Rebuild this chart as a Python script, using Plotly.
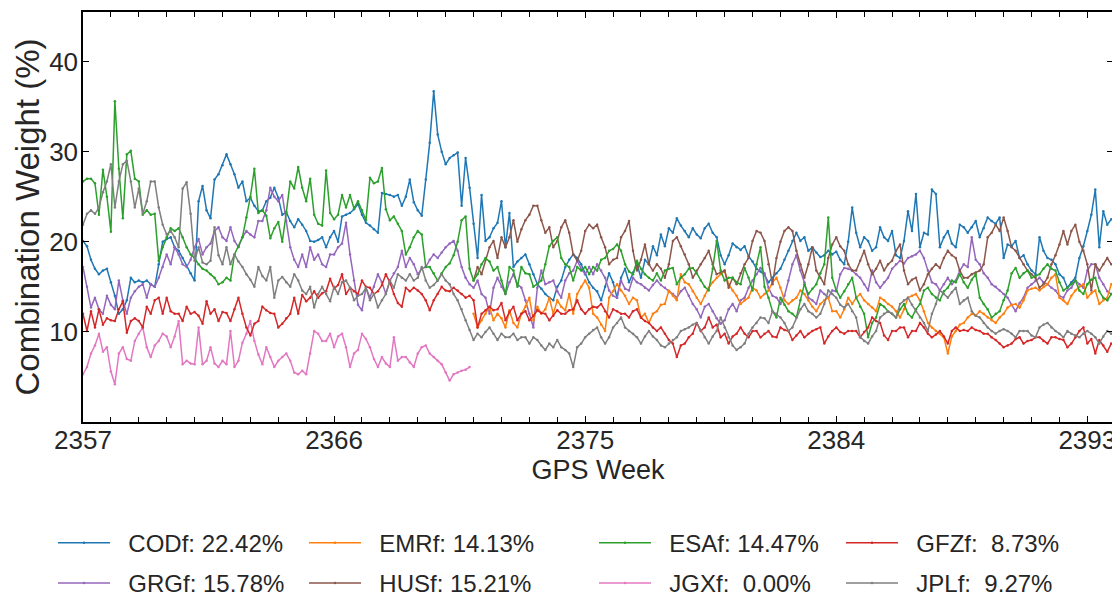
import plotly.graph_objects as go

# ---------------- data (daily values) ----------------
first_week = 2357          # week of first daily sample
late_start_week = 2371     # EMRf / HUSf start at this GPS week

cod = [20.1, 19.5, 18, 17, 16.4, 16.8, 17, 15.5, 14, 12,
       12.5, 13.5, 16, 15.5, 15.7, 15.5, 15.7, 15.3, 15, 17.5,
       20, 20.3, 20.5, 19.4, 19, 18.2, 17.3, 16.5, 15.7, 24.5,
       26.2, 23.5, 22.6, 26.9, 27.5, 28.5, 29.7, 28.6, 27.5, 26,
       26.7, 24.5, 24.9, 24, 23.4, 23.5, 24.5, 24.9, 26, 24.9,
       23, 23.3, 22.3, 21.6, 22.5, 21.9, 21.2, 20.1, 20, 20.2,
       20.5, 19.4, 20.5, 21.2, 20, 22.8, 23, 23.2, 23.6, 24.2,
       23, 22.1, 21.8, 21.4, 21, 25.4, 25.3, 25.2, 25, 25.2,
       24, 25, 26.9, 24.4, 23.5, 22.9, 26.9, 31, 36.7, 31.9,
       30, 28.6, 29.3, 29.6, 29.9, 24, 29.3, 26, 22, 18.2,
       25.2, 20.1, 20.5, 21.5, 22.1, 24.5, 19.4, 23.2, 17.2, 17.8,
       18.2, 18.6, 17.5, 16.4, 15.3, 14.8, 14.2, 13.8, 13.5, 15,
       15.7, 17.2, 18, 18.6, 18.2, 17.5, 16.4, 15.5, 14.9, 14.5,
       13.5, 15, 16.5, 15.5, 13.8, 16, 17, 15.5, 16.6, 17.5,
       16, 18, 17.5, 19.5, 18.5, 20.8, 19.5, 21.5, 21, 22.6,
       21.8, 21.2, 20.5, 21.5, 20.8, 20.4, 21.5, 22, 21, 20.5,
       18.5, 17.5, 18.5, 19.8, 19.4, 19.1, 19.5, 18.4, 17.8, 17,
       16.7, 16.3, 15.5, 16, 16.5, 17, 18, 19, 20.1, 21,
       20.1, 20.5, 19, 19.4, 18.8, 18.3, 18.5, 19, 18.6, 18.9,
       18, 17.5, 20, 23.8, 21, 19.4, 20.5, 20.1, 19, 19.4,
       21.6, 20.5, 20.1, 21.2, 18.5, 18.2, 20.1, 23.4, 21.2, 25.3,
       19.4, 21, 20.8, 25.8, 25.3, 19.4, 20.5, 21.2, 19.8, 19.4,
       21.9, 21.6, 21, 21.6, 22.3, 20.5, 21.5, 22.7, 22.3, 22,
       22.7, 18.2, 19.7, 19.5, 20.1, 18.2, 18.5, 17.5, 16.8, 16.4,
       20.5, 19, 18.2, 18, 17.5, 16.4, 16, 14.9, 15.5, 16,
       18.2, 19.5, 21.2, 23, 25.8, 19.4, 23.4, 21.9, 22.5]

emr = [12, 10.5, 11.3, 12, 12.8, 11.3, 12, 11.5, 10.5, 12.4,
       11, 10.5, 12, 12.8, 13.8, 11.3, 12.8, 12, 12.5, 13.8,
       12, 13.5, 12.8, 12.4, 14.2, 12, 14.2, 15, 15.7, 14.9,
       12, 11.6, 10.8, 10.1, 13.8, 14.5, 15.3, 14.6, 14, 13.1,
       13.8, 13.5, 11.6, 12, 11, 12, 12.3, 13, 13.1, 14.6,
       14, 13.5, 16.4, 15.5, 15.3, 14.5, 13.8, 13.1, 14, 14.9,
       15.5, 16, 16.4, 16.8, 15.3, 14.6, 14, 13.1, 13.5, 13.8,
       14.9, 14.6, 13.8, 14.2, 14.6, 15.5, 16, 14.9, 13.5, 13.1,
       13.5, 13.8, 14.6, 14.2, 13.5, 12.8, 12.3, 13.1, 13.5, 13.8,
       12.3, 12.3, 11.6, 12.5, 13.8, 13.1, 13.8, 14.2, 13.5, 13.1,
       12.7, 12.3, 13.8, 13.5, 13.1, 12.8, 12.3, 11.6, 12.5, 13.8,
       14, 14.2, 13.5, 12.3, 11, 10.5, 10.1, 9.8, 9.4, 7.6,
       9.5, 10.1, 10.8, 11, 11.6, 12, 11.8, 12.3, 12, 11.6,
       11.3, 11, 11.6, 12, 12.7, 13, 13.1, 12.7, 13.5, 14.6,
       14.8, 14.9, 14.6, 15, 15.3, 16, 16.4, 13.8, 13.5, 13.1,
       14, 14.6, 15, 15.3, 13.8, 14.3, 14.6, 13.1, 13.5, 13.8,
       15.3]

esa = [26.7, 27, 27, 26.5, 23, 28, 25, 21.1, 35.6, 28.1,
       22.6, 29.7, 30.1, 27, 26.7, 23, 23.5, 23, 23.1, 17.9,
       19.4, 20.5, 21.5, 21.2, 21.5, 20.5, 19.4, 18.6, 18.2, 17.5,
       17, 16.8, 16.4, 16, 15.3, 15.5, 16, 15.7, 18.6, 19.5,
       20.5, 22.7, 25, 28.1, 23.2, 23.5, 22.9, 20.4, 21.5, 22.2,
       20, 23.2, 26.7, 25.9, 28.3, 26, 24.5, 27, 23, 22,
       21.8, 27.9, 23.2, 22.5, 23, 25.2, 23.8, 25.2, 23.7, 24.5,
       23.5, 22.4, 27.1, 26.5, 26.7, 28.2, 23.6, 22.4, 22.8, 22,
       21.2, 18.6, 19.4, 20.5, 21.2, 20.8, 17.2, 17.2, 16.5, 15.7,
       16.5, 17.2, 17.6, 18.5, 20, 22.4, 22.8, 17, 15.7, 16.4,
       17.5, 18.2, 17.8, 16.8, 17.2, 15.7, 14.2, 17.2, 16.8, 15,
       17.2, 16.5, 16.4, 15, 15.3, 15.7, 17.5, 19.5, 20.1, 20.5,
       18.2, 17.5, 17.2, 15.7, 17.2, 16.8, 17.2, 16.4, 17.2, 16.8,
       18, 18.2, 19, 19.2, 19.7, 19, 17.5, 16.7, 16.4, 17.9,
       17, 16.4, 16, 15.7, 16.5, 15.7, 16.8, 17, 17.1, 15.3,
       16, 16.4, 17, 17.1, 16.5, 15.7, 15, 14.6, 17, 20.1,
       16.8, 15.7, 16, 16, 15.5, 15.3, 17.1, 16, 14.6, 17.5,
       19.4, 15, 13.8, 12.3, 11.6, 13.8, 13, 12.3, 12, 11.6,
       13.5, 15.3, 14.2, 14.8, 15.3, 16.5, 17.5, 22.7, 16, 14.6,
       13.8, 14.5, 15.3, 16, 13.8, 12.8, 12, 9.4, 11, 11.6,
       13.1, 12.8, 12.3, 12, 11.6, 12.5, 13.1, 12, 11.6, 12.5,
       13.1, 14.6, 14.9, 14.2, 13.8, 13.5, 14.5, 14.9, 15.7, 15.5,
       16.4, 15.5, 14.9, 15.8, 16.4, 13.8, 13.1, 12.5, 11.6, 12,
       12.3, 13.5, 14.6, 16.5, 17.1, 16, 16.5, 16.8, 16, 16.2,
       16.4, 17, 17.5, 17, 16.8, 15.5, 14.6, 14.9, 15.3, 15.7,
       14.6, 14.2, 15.3, 15.8, 16, 14.5, 13.8, 13.5, 14.2]

gfz = [12, 10.1, 12.3, 10.5, 12.5, 10.8, 11.5, 11.3, 11.2, 12.5,
       13.4, 9.9, 11.2, 11.5, 11.2, 10.5, 12.8, 12, 13.5, 13.8,
       12, 13.8, 12.3, 12, 12, 11.2, 12.8, 12, 12.2, 11.8,
       10.9, 13.4, 12, 12.5, 11.2, 12.2, 12.1, 11.2, 12.5, 13.8,
       12, 10.5, 9.6, 10.9, 11.2, 12.8, 12.4, 12.1, 12, 10.5,
       10.9, 11.5, 12, 13.8, 12, 14.1, 13.4, 13.8, 14.5, 13.8,
       14.3, 14.5, 15.9, 14.8, 15.2, 16.4, 14.2, 14.9, 14.5, 14.2,
       15.7, 15, 14.9, 14.2, 14.5, 15.2, 16.4, 15.5, 14.2, 13.2,
       12.8, 14.9, 14.5, 14.9, 14.6, 14.2, 13.5, 12.4, 13.5, 14.2,
       15, 14.6, 14.5, 14.9, 14.6, 14.2, 13.8, 14, 13.5, 10.5,
       12, 12.4, 12.8, 12.4, 12.5, 13.2, 11.3, 12.2, 12.8, 11.3,
       12, 12.3, 11.3, 11.8, 12.4, 12.1, 12, 11.3, 11.8, 12.4,
       12, 12, 12.4, 12.5, 13.5, 12.5, 12, 12.5, 12.8, 12.7,
       13.1, 12.3, 11.6, 12.5, 12.3, 12, 12, 11.6, 12.3, 12.5,
       11.6, 11.2, 11, 10.5, 10.1, 10.5, 9.8, 9.1, 8.7, 7.2,
       8.5, 8.7, 9.4, 9.8, 11, 10.1, 10.5, 11.6, 10.5, 10.8,
       9.4, 9.8, 8.7, 9.5, 9.8, 10.5, 9.8, 9.4, 10.1, 10.1,
       9.4, 9.8, 10.1, 9.5, 9.4, 10.5, 10.2, 10.1, 9.1, 9.6,
       10.1, 9.4, 9.8, 10.1, 10.3, 10.5, 8.7, 9.5, 10.1, 10.5,
       10, 9.8, 10.1, 10.1, 10.1, 9.4, 10, 10.5, 11.6, 11.2,
       11, 9.6, 9.1, 10.1, 10.1, 10.5, 10.5, 9.4, 10.1, 10.1,
       11, 10.5, 9.8, 9.4, 9.7, 10.1, 9.5, 8.7, 10.1, 10.5,
       10.1, 10.2, 10.1, 10.5, 10.2, 10.1, 9.8, 9.8, 9.4, 9.1,
       8.7, 8.3, 8.5, 8.7, 9.2, 9.4, 8.7, 9, 9.1, 9.4,
       9.4, 9, 8.7, 9.4, 9.4, 9.2, 9.1, 8.3, 8.7, 9.4,
       10.1, 10.5, 8.7, 9.2, 7.6, 9.1, 8.5, 7.8, 8.7]

grg = [17.2, 15, 12.7, 13.8, 12.5, 12, 14, 13, 12.5, 15.7,
       13.5, 12, 13.8, 14.5, 15, 15.3, 13.8, 15.3, 15, 16,
       17.2, 18.6, 17.5, 19.4, 18.6, 17.5, 17.2, 18, 19.4, 20.3,
       18.6, 19.4, 19.8, 21.2, 21.6, 20.5, 20.1, 21.6, 20.1, 19.4,
       20.5, 21.2, 20.8, 20.5, 22.3, 22.3, 23.5, 26, 25, 24.5,
       25.2, 22.3, 19.4, 18, 17.2, 18.6, 17.2, 19.4, 18, 18.6,
       17.5, 17.2, 18.6, 18.6, 19.4, 19.8, 22.1, 18.6, 15.7, 13,
       12.4, 14.9, 13.8, 15, 16.4, 15.5, 14.2, 15.7, 16.5, 17.2,
       19, 17.2, 18.2, 17.5, 16.4, 17, 17.2, 18, 18.6, 18.2,
       18.8, 19.4, 19.8, 20.1, 19, 17.2, 16, 15.3, 14.9, 15.7,
       14.2, 13.8, 12, 14.9, 16, 15, 14.2, 15.5, 16.4, 15.3,
       14.9, 13.5, 12, 10.5, 14.9, 16.8, 15.3, 15.5, 15.7, 14.5,
       13.8, 15.7, 16.5, 16.8, 17.9, 17, 16.4, 17.2, 16.4, 17.5,
       16.8, 16, 14.6, 14, 13.8, 15.7, 14.8, 14.6, 16, 15.5,
       15.3, 14.9, 14.6, 15.2, 15.7, 15.2, 14.9, 14.5, 14.2, 13.8,
       14.5, 14.9, 14, 13.1, 12.5, 11.6, 12.8, 13.1, 12.3, 11.5,
       10.9, 11.3, 12.5, 13.1, 12.3, 13.5, 13.8, 14.9, 15.7, 16.4,
       17.1, 16.5, 14.9, 14, 13.8, 13.1, 14, 15.7, 17.5, 18.5,
       16.8, 15.5, 13.8, 13.5, 13.1, 14.6, 14.2, 13.8, 14.6, 14.5,
       16.4, 17.1, 17, 16.8, 16.4, 16, 15.3, 14.6, 16.8, 15.5,
       14.9, 15.5, 16, 17, 17.5, 17.9, 17.6, 18.2, 18.4, 18.6,
       19, 18.2, 16.8, 15.5, 15.3, 14.6, 15.3, 16, 15.3, 15.7,
       16.8, 17.5, 17.2, 20.5, 18, 17.5, 16.5, 16, 15.3, 15,
       14.6, 14.2, 13.8, 13, 12.3, 13.2, 13.8, 14.9, 15.3, 15.7,
       16, 15.5, 15.3, 14.9, 14.6, 14, 13.8, 14.6, 14.9, 15.7,
       15.3, 14.9, 16.8, 17.5, 17.5, 16, 15.3, 14.5, 14.2]

hus = [15.7, 17.2, 16.4, 18, 19.4, 20.1, 18.2, 20.5, 19.4, 20.5,
       22.4, 20, 21.4, 22.4, 23, 24, 24, 22.4, 21, 21.6,
       19.4, 20.1, 21.6, 22.4, 21, 18.6, 17.9, 19, 21.2, 21.9,
       21.5, 21.9, 20.5, 19.4, 17.5, 18, 18.2, 20.5, 21.2, 22.3,
       19, 16.8, 18, 19.7, 17.5, 16.8, 17.5, 17, 16, 17.5,
       20.1, 20.5, 19.5, 18.6, 17.5, 16, 16.8, 17.5, 18.2, 19,
       17.5, 16.4, 16.6, 16.8, 14.9, 16, 15.3, 16.5, 17.5, 18.2,
       20.1, 21.2, 21, 20.1, 17.5, 15.3, 18.2, 20, 21.2, 21.6,
       21.2, 19, 17.5, 16, 17.5, 19.4, 16.8, 16, 15.3, 18.2,
       19.7, 20.5, 19.5, 19, 17.5, 16.8, 16.8, 17.9, 19, 17.5,
       16.4, 17, 17.9, 16.8, 17.5, 17.9, 19, 19.7, 16.8, 15.3,
       15.8, 16, 14.6, 15.3, 16.4, 17, 17.5, 17.1, 18.2, 19,
       18.5, 18.2, 16.8, 16, 16, 16.4, 16.6, 16.8, 17.5, 20.5,
       21, 21.9, 21.2, 22.7, 21.2, 19.4, 19, 18.2, 17.5, 16.8,
       16.4, 16, 14.9, 15.3, 16, 17.5, 18.5, 19.7, 21.2, 19.7,
       21.2, 21.9, 20, 19, 17.5, 14.6, 17.5, 16.8, 17.5, 18.2,
       17.5]

jgx = [5.3, 6.1, 7.6, 8.5, 9.8, 7.8, 8.3, 5.6, 4.2, 7.6,
       8.3, 7, 6.8, 9, 9.8, 10.5, 8.3, 7.2, 8.5, 9,
       9.8, 9.5, 8.3, 9.5, 11.2, 6.4, 6.8, 6.5, 6.4, 10.5,
       6.4, 6.8, 8.3, 6.5, 6.1, 6.8, 6.4, 10.1, 6.1, 6.8,
       8.8, 9.8, 11.2, 9, 7.5, 6.4, 8.3, 7.2, 6.1, 6.8,
       7.2, 7.6, 6.8, 5.5, 5.3, 5.7, 5.3, 7.6, 10.1, 9.8,
       9, 9, 9.8, 8.3, 9.5, 9.8, 8.3, 6.1, 7.6, 8,
       9.8, 9.2, 8.3, 7, 6.1, 7.2, 6.5, 6.1, 9.4, 6.8,
       7.2, 7.2, 6.6, 6.1, 7.6, 8.3, 8.5, 7.6, 7.2, 6.8,
       6.4, 5.5, 4.6, 5.3, 5.5, 5.7, 5.8, 6.1]

jpl = [21.9, 23.1, 23.5, 23.1, 23.8, 25.5, 26.7, 28.6, 23.8, 26.7,
       28.6, 29, 26.7, 23.8, 25.9, 23.1, 24.5, 26.7, 26.7, 23.8,
       21.9, 20.8, 21.2, 20.5, 19.4, 25.9, 26.6, 23.1, 17.9, 19.4,
       17.7, 17.5, 17.9, 21.6, 18.5, 17.5, 19.4, 17.5, 18.6, 17.8,
       17.2, 16.4, 15.8, 15, 17.2, 16.2, 15.7, 17.2, 13.8, 15.7,
       16.1, 15.5, 15, 16.4, 15.7, 14.6, 14.2, 15, 12.7, 14.2,
       15, 14.2, 13.4, 15, 14.2, 15.5, 15.7, 14.9, 13.5, 14,
       14.2, 14.9, 13.5, 14.2, 12.7, 13.5, 14.2, 15.7, 14.9, 16.4,
       16, 15.7, 16.4, 15.7, 16, 17.2, 15.7, 14.9, 15.2, 15.7,
       16.4, 15.7, 15.3, 14.2, 13.5, 12.5, 11.3, 10.2, 9.1, 9.8,
       9.4, 10, 10.5, 9.8, 9.1, 9.8, 9.4, 9.4, 9.8, 9.1,
       9.4, 9.4, 8.7, 9.4, 9.1, 8.5, 8, 8.7, 8.3, 9.1,
       8.3, 8, 7.6, 6.1, 8.3, 8.7, 9.4, 9.8, 10.2, 10.5,
       9.4, 8.7, 9.4, 10.5, 11, 11.6, 10.5, 10.1, 9.8, 9.4,
       8.7, 9.5, 10.1, 9.5, 9.1, 8.5, 8.3, 8.7, 9.1, 9.4,
       10.1, 10.3, 10.5, 10.8, 11, 10.2, 9.4, 8.7, 9.5, 10.1,
       11.6, 10.5, 9.4, 8.5, 8, 8.3, 8.7, 9.8, 10.5, 11,
       11.6, 11.5, 11, 12.3, 12, 11.6, 11, 10.1, 10.5, 11.6,
       12.5, 13.1, 12.3, 12, 11.6, 12, 13.1, 14.6, 14.2, 13.8,
       13, 12.7, 13.1, 12.3, 11.6, 9.4, 9, 8.7, 9.5, 10.1,
       11.6, 12, 12.3, 12, 11.6, 13.1, 13.5, 13.8, 13, 12.3,
       11.6, 11, 10.1, 12, 13.1, 14.6, 14.2, 13.8, 14.4, 14.9,
       13.1, 13.5, 13.8, 12.3, 11.8, 11.6, 11, 10.5, 10.1, 9.8,
       10.1, 10.3, 10.1, 9.8, 9.4, 10.1, 10.1, 10.1, 9.6, 9.4,
       10.5, 10.8, 11, 10.5, 10.1, 9.8, 9.4, 10.1, 9.8, 9.6,
       9.4, 9.8, 10.1, 9.8, 9.4, 8.7, 9.5, 10.1, 9.8]

names = ["CODf", "EMRf", "ESAf", "GFZf", "GRGf", "HUSf", "JGXf", "JPLf"]
shares = ["22.42%", "14.13%", "14.47%", "8.73%", "15.78%", "15.21%", "0.00%", "9.27%"]
values = [cod, emr, esa, gfz, grg, hus, jgx, jpl]
start_weeks = [first_week, late_start_week, first_week, first_week,
               first_week, late_start_week, first_week, first_week]

x_tickvals = [2357, 2366, 2375, 2384, 2393]
y_tickvals = [10, 20, 30, 40]

# ---------------- styling ----------------
colors = ["#1f77b4", "#ff7f0e", "#2ca02c", "#d62728",
          "#9467bd", "#8c564b", "#e377c2", "#7f7f7f"]
FONT = "Liberation Sans, Arial, Helvetica, sans-serif"
TXT = "#262626"
NB = "\u00a0"

# legend column for each series: 2 rows x 4 columns
legend_ids = ["legend", "legend2", "legend3", "legend4",
              "legend", "legend2", "legend3", "legend4"]

fig = go.Figure()
order = [0, 4, 1, 5, 2, 6, 3, 7]   # column-wise so each legend lists row1, row2
for i in order:
    v = values[i]
    xs = [start_weeks[i] + k / 7.0 for k in range(len(v))]
    pad = NB if len(shares[i]) < 6 else ""
    label = f"{NB}{NB}{names[i]}:{NB}{pad}{shares[i]}"
    fig.add_trace(go.Scatter(
        x=xs, y=v, mode="lines+markers", name=label,
        legendgroup=names[i],
        line=dict(color=colors[i], width=1.5),
        marker=dict(color=colors[i], size=2.5),
        legend=legend_ids[i],
    ))

axis_common = dict(
    showline=True, linecolor="black", linewidth=1.5, mirror="ticks",
    ticks="inside", ticklen=6, tickwidth=1.3, tickcolor="black",
    showgrid=False, zeroline=False, automargin=False,
    ticklabeloverflow="allow",
    tickfont=dict(family=FONT, size=26, color=TXT),
)

fig.update_xaxes(
    range=[2357, 2393.92], tickmode="array", tickvals=x_tickvals,
    ticktext=[str(t) for t in x_tickvals],
    minor=dict(dtick=1, tick0=2357, ticks="inside", ticklen=5,
               tickwidth=1.2, tickcolor="black"),
    ticklabelstandoff=-6,
    title=dict(text="GPS Week", font=dict(family=FONT, size=27, color=TXT),
               standoff=0),
    **axis_common,
)
fig.update_yaxes(
    range=[0, 45.5], tickmode="array", tickvals=y_tickvals,
    ticktext=[str(t) for t in y_tickvals],
    ticklabelstandoff=-2,
    title=dict(text="Combination Weight (%)",
               font=dict(family=FONT, size=33, color=TXT), standoff=0),
    **axis_common,
)

leg_font = dict(family=FONT, size=24, color=TXT)
leg_common = dict(orientation="v", yanchor="top", y=-0.2405, xanchor="left",
                  font=leg_font, bgcolor="rgba(0,0,0,0)", itemwidth=52,
                  tracegroupgap=6)
W = 1030.0
# the page body adds an 8 px offset, so the figure is 8 px smaller
fig.update_layout(
    width=1112, height=593,
    margin=dict(l=75, r=7, t=4, b=179, autoexpand=False),
    paper_bgcolor="white", plot_bgcolor="white",
    showlegend=True,
    legend=dict(x=(53 - 83) / W, **leg_common),
    legend2=dict(x=(304 - 83) / W, **leg_common),
    legend3=dict(x=(594 - 83) / W, **leg_common),
    legend4=dict(x=(841 - 83) / W, **leg_common),
)

fig.write_html("out.html")
